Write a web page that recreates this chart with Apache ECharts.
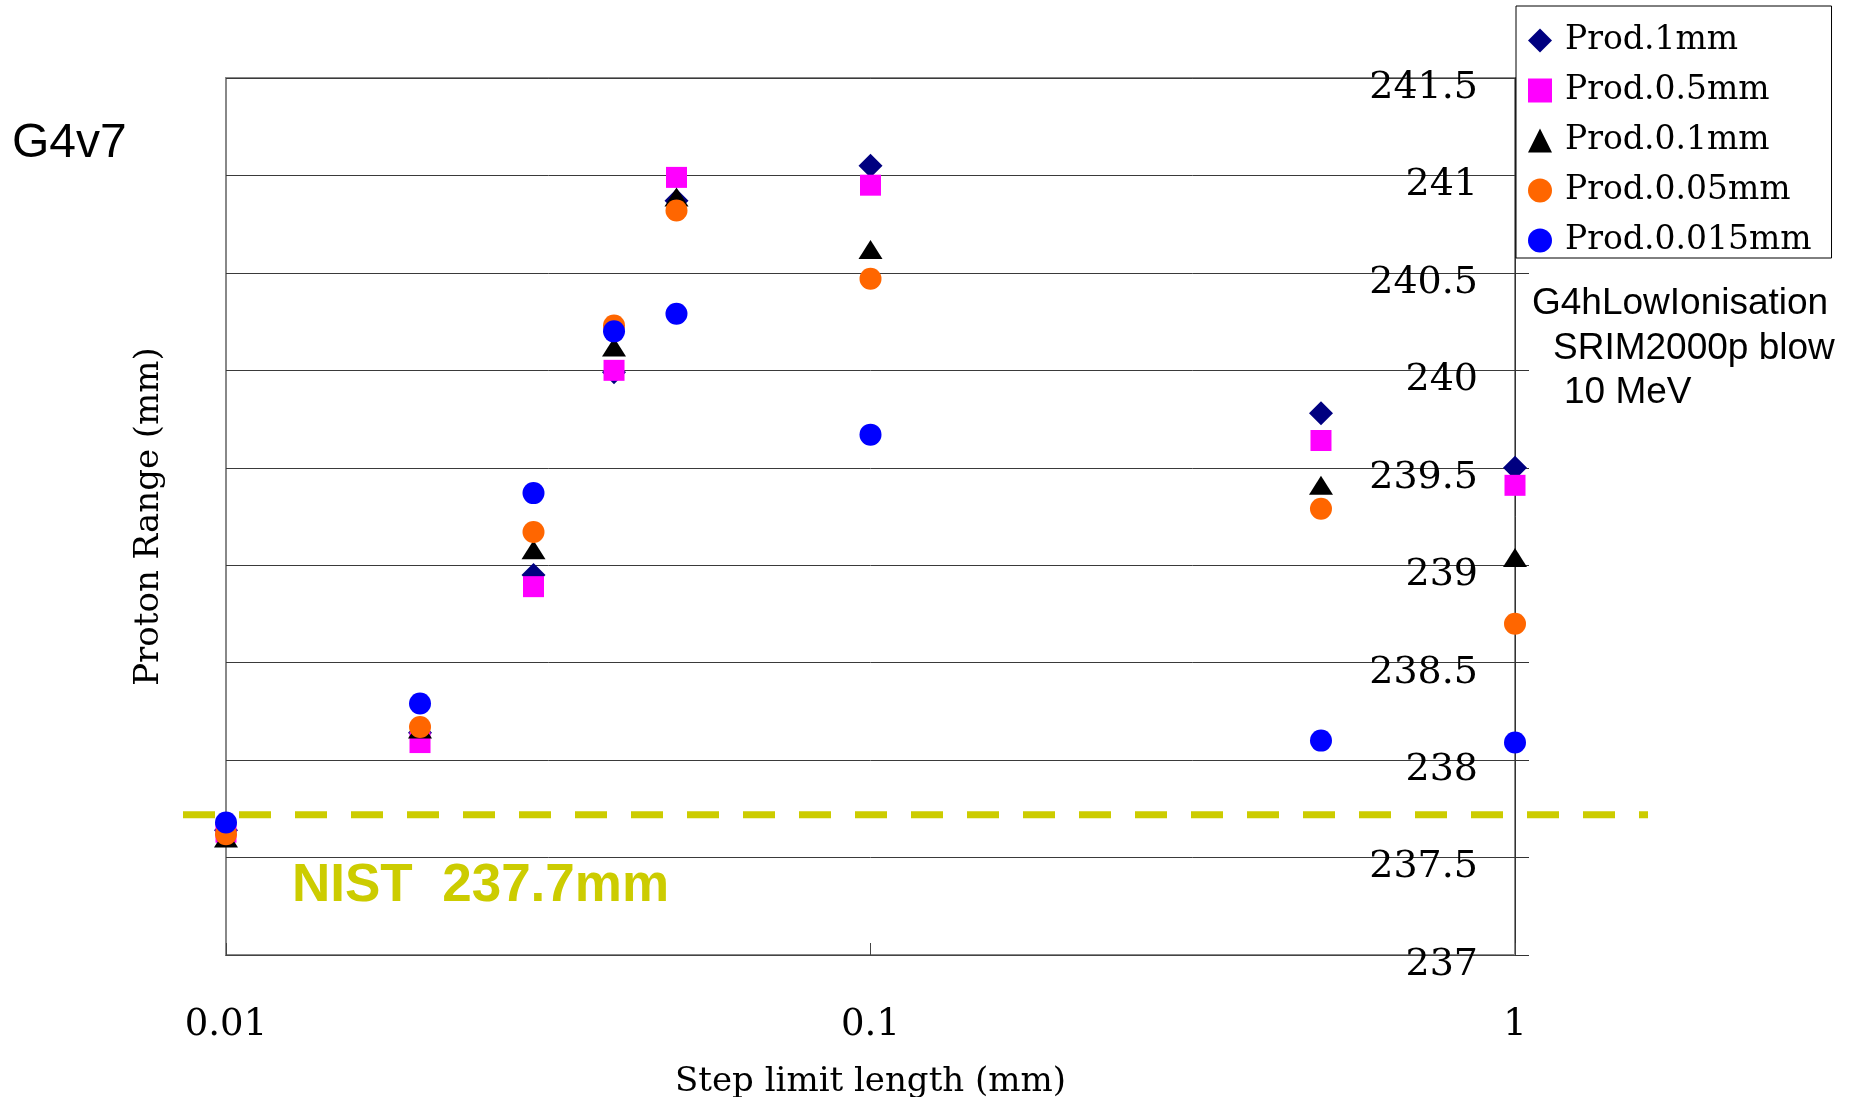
<!DOCTYPE html>
<html>
<head>
<meta charset="utf-8">
<title>Proton range vs step limit</title>
<script src="https://cdn.jsdelivr.net/npm/echarts@6/dist/echarts.min.js"></script>
<style>
  html, body { margin: 0; padding: 0; background: #fff; }
  #chart { width: 1849px; height: 1097px; }
</style>
</head>
<body>
<div id="chart"></div>
<script>
// step limit (mm) on a log axis
const stepLimits = [0.01, 0.02, 0.03, 0.04, 0.05, 0.1, 0.5, 1];

// proton range (mm) per production cut
const prod1mm    = [237.64, 238.14, 238.95, 239.99, 240.87, 241.05, 239.78, 239.50];
const prod05mm   = [237.63, 238.09, 238.89, 240.00, 240.99, 240.95, 239.64, 239.41];
const prod01mm   = [237.60, 238.16, 239.08, 240.12, 240.89, 240.62, 239.41, 239.04];
const prod005mm  = [237.62, 238.17, 239.17, 240.23, 240.82, 240.47, 239.29, 238.70];
const prod0015mm = [237.68, 238.29, 239.37, 240.20, 240.29, 239.67, 238.10, 238.09];

const seriesNames = ['Prod.1mm', 'Prod.0.5mm', 'Prod.0.1mm', 'Prod.0.05mm', 'Prod.0.015mm'];

// NIST reference range, drawn as a dashed line across the plot
const nistRange = 237.72;
const nistLineX = [0, 1];

const yMin = 237;
const yMax = 241.5;
const yStep = 0.5;

const serif = 'DejaVu Serif';
const sans = 'Liberation Sans';
const nistColor = '#cccc00';

function toPoints(values) {
  return stepLimits.map((x, i) => [x, values[i]]);
}

const markers = [
  { values: prod1mm,    symbol: 'diamond',  size: 24,       color: '#000080' },
  { values: prod05mm,   symbol: 'rect',     size: 21,       color: '#ff00ff' },
  { values: prod01mm,   symbol: 'triangle', size: [24, 19], color: '#000000' },
  { values: prod005mm,  symbol: 'circle',   size: 22,       color: '#ff6600' },
  { values: prod0015mm, symbol: 'circle',   size: 22,       color: '#0000ff' }
];

const scatterSeries = markers.map((m, i) => ({
  name: seriesNames[i],
  type: 'scatter',
  xAxisIndex: 0,
  yAxisIndex: 0,
  symbol: m.symbol,
  symbolSize: m.size,
  clip: false,
  itemStyle: { color: m.color, opacity: 1 },
  data: toPoints(m.values),
  z: 3 + i
}));

const chart = echarts.init(document.getElementById('chart'), null, { renderer: 'canvas' });

chart.setOption({
  backgroundColor: '#ffffff',
  animation: false,
  grid: [
    {
      left: 226, right: 334, top: 78, bottom: 142,
      outerBoundsMode: 'none',
      show: true, borderColor: '#888', borderWidth: 2
    },
    { left: 183, right: 201, top: 78, bottom: 142, outerBoundsMode: 'none', show: false }
  ],
  legend: {
    orient: 'vertical',
    left: 1516,
    top: 6,
    data: seriesNames,
    itemWidth: 24,
    itemHeight: 24,
    itemGap: 17,
    padding: [18, 20, 1, 12],
    borderColor: '#000',
    borderWidth: 1,
    backgroundColor: '#fff',
    textStyle: { fontFamily: serif, fontSize: 33, color: '#000', padding: [0, 0, 0, 8] }
  },
  xAxis: [
    {
      gridIndex: 0,
      type: 'log',
      logBase: 10,
      min: 0.01,
      max: 1,
      name: 'Step limit length (mm)',
      nameLocation: 'middle',
      nameGap: 110,
      nameTextStyle: { fontFamily: serif, fontSize: 34, color: '#000' },
      axisLine: { lineStyle: { color: '#444', width: 1 } },
      axisTick: { inside: true, length: 12, lineStyle: { color: '#444' } },
      axisLabel: { margin: 52, fontFamily: serif, fontSize: 37, color: '#000' },
      splitLine: { show: false },
      minorTick: { show: false }
    },
    { gridIndex: 1, type: 'value', min: 0, max: 1, show: false }
  ],
  yAxis: [
    {
      gridIndex: 0,
      type: 'value',
      position: 'right',
      min: yMin,
      max: yMax,
      interval: yStep,
      axisLine: { show: true, lineStyle: { color: '#333', width: 1 } },
      axisTick: { show: true, length: 14, lineStyle: { color: '#333' } },
      axisLabel: {
        inside: true,
        margin: 37,
        fontFamily: serif,
        fontSize: 38,
        color: '#000',
        verticalAlign: 'top',
        lineHeight: 20
      },
      splitLine: { lineStyle: { color: '#3a3a3a', width: 1 } }
    },
    {
      // left side only carries the axis title
      gridIndex: 0,
      type: 'value',
      position: 'left',
      min: yMin,
      max: yMax,
      interval: yStep,
      name: 'Proton Range (mm)',
      nameLocation: 'middle',
      nameGap: 60,
      nameRotate: 90,
      nameTextStyle: { fontFamily: serif, fontSize: 34, color: '#000' },
      axisLine: { show: false },
      axisTick: { show: false },
      axisLabel: { show: false },
      splitLine: { show: false }
    },
    { gridIndex: 1, type: 'value', min: yMin, max: yMax, show: false }
  ],
  series: [
    {
      name: 'NIST',
      type: 'line',
      xAxisIndex: 1,
      yAxisIndex: 2,
      symbol: 'none',
      silent: true,
      lineStyle: { color: nistColor, width: 7, type: [32, 24] },
      data: nistLineX.map(x => [x, nistRange]),
      z: 2
    },
    ...scatterSeries
  ],
  graphic: [
    {
      type: 'text',
      left: 12,
      top: 120,
      style: { text: 'G4v7', font: '48px "' + sans + '"', fill: '#000' }
    },
    {
      type: 'text',
      left: 1532,
      top: 285,
      style: { text: 'G4hLowIonisation', font: '37px "' + sans + '"', fill: '#000' }
    },
    {
      type: 'text',
      left: 1553,
      top: 330,
      style: { text: 'SRIM2000p blow', font: '37px "' + sans + '"', fill: '#000' }
    },
    {
      type: 'text',
      left: 1564,
      top: 374,
      style: { text: '10 MeV', font: '37px "' + sans + '"', fill: '#000' }
    },
    {
      type: 'text',
      left: 292,
      top: 860,
      style: { text: 'NIST  237.7mm', font: 'bold 53px "' + sans + '"', fill: nistColor }
    }
  ]
});

window.addEventListener('resize', () => chart.resize());
</script>
</body>
</html>
